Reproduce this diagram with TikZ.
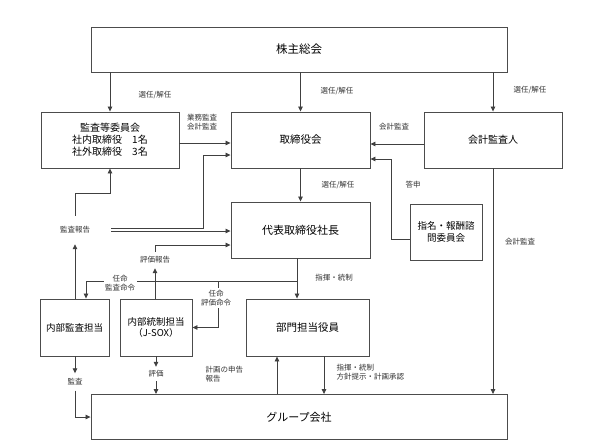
\documentclass[tikz,border=0pt]{standalone}
\usepackage{fontspec}
\setmainfont{Noto Sans CJK JP}
\usetikzlibrary{arrows.meta,calc}
\begin{document}
\begin{tikzpicture}[x=1pt,y=-1pt,
  box/.style={draw=black!70, line width=0.9pt, align=center, inner sep=1pt, font=\fontsize{10.5}{12}\selectfont},
  lab/.style={fill=white, align=center, inner sep=1.5pt, font=\fontsize{7.5}{9.5}\selectfont, text=black!80},
  arr/.style={draw=black!75, line width=0.8pt, -{Triangle[length=5pt,width=4.5pt]}},
  ln/.style={draw=black!75, line width=0.8pt}]
\useasboundingbox (0,0) rectangle (601,442);
% boxes
\node[box, minimum width=416, minimum height=45, font=\fontsize{11.5}{13}\selectfont] (sh) at (299,49.5) {株主総会};
\node[box, minimum width=138, minimum height=56, font=\fontsize{10}{12}\selectfont] (kansa) at (110,140) {監査等委員会\\社内取締役　1名\\社外取締役　3名};
\node[box, minimum width=139, minimum height=56] (tori) at (300.5,140) {取締役会};
\node[box, minimum width=138, minimum height=56, font=\fontsize{10}{12}\selectfont] (kaikei) at (493,140) {会計監査人};
\node[box, minimum width=139, minimum height=56, font=\fontsize{11}{13}\selectfont] (daihyo) at (300.5,230) {代表取締役社長};
\node[box, minimum width=72, minimum height=56, font=\fontsize{9.5}{11.5}\selectfont] (shimei) at (446,232) {指名・報酬諮\\問委員会};
\node[box, minimum width=69, minimum height=57, font=\fontsize{9.5}{11.5}\selectfont] (naibu) at (74.5,327.5) {内部監査担当};
\node[box, minimum width=72, minimum height=57, font=\fontsize{9.5}{11.5}\selectfont] (tosei) at (156,327.5) {内部統制担当\\（J-SOX）};
\node[box, minimum width=123, minimum height=57] (bumon) at (307.5,327.5) {部門担当役員};
\node[box, minimum width=416, minimum height=45, font=\fontsize{11}{13}\selectfont] (group) at (299,417) {グループ会社};
% coordinates
\coordinate (j1) at (297,281);
\coordinate (j2) at (86,281);
\coordinate (j3) at (218,281);
\coordinate (k1) at (74,193);
\coordinate (k2) at (203,228);
\coordinate (k3) at (203,155);
\coordinate (k4) at (111,231);
\coordinate (g1) at (277,395);
\coordinate (g2) at (324,356);
\coordinate (s1) at (391,159);
\coordinate (s0) at (410,239);
% label nodes used as connector ends
\node[lab, minimum width=72, minimum height=28] (lk) at (75,230) {監査報告};
\node[lab, minimum width=40, minimum height=16] (lh) at (155,260) {評価報告};
\node[lab, minimum width=28, minimum height=14] (lv) at (156,374) {評価};
\node[lab, minimum width=30, minimum height=17] (lm) at (75,382) {監査};
% connectors
\draw[arr] (sh.south -| kansa.north) -- (kansa.north);
\draw[arr] (sh.south -| tori.north) -- (tori.north);
\draw[arr] (sh.south -| kaikei.north) -- (kaikei.north);
\draw[arr] ($(kansa.east)+(0,3)$) -- ($(tori.west)+(0,3)$);
\draw[arr] ($(kaikei.west)+(0,4)$) -- ($(tori.east)+(0,4)$);
\draw[arr] (tori.south) -- (daihyo.north);
\draw[arr] (s0) -| (s1) -- (s1 -| tori.east);
\draw[arr] (daihyo.south -| j1) -- (bumon.north -| j1);
\draw[ln] (j1) -- (j2);
\draw[arr] (j2) -- (j2 |- naibu.north);
\draw[arr] (j3) |- (tosei.east);
\draw[arr] (lk.south |- naibu.north) -- (lk.south);
\draw[arr] (lk.north) -- (lk.north |- k1) -| (kansa.south);
\draw[ln] (lk.east |- k2) -- (k2) -- (k3);
\draw[arr] (k3) -- (k3 -| tori.west);
\draw[arr] (k4) -- (k4 -| daihyo.west);
\draw[arr] (lh.south |- tosei.north) -- (lh.south);
\draw[arr] (lh.north) |- ($(daihyo.west)+(0,15)$);
\draw[arr] (tosei.south -| lv.north) -- (lv.north);
\draw[arr] (lv.south) -- (lv.south |- group.north);
\draw[arr] (naibu.south -| lm.north) -- (lm.north);
\draw[arr] (lm.south) |- (group.west);
\draw[arr] (group.north -| g1) -- (bumon.south -| g1);
\draw[arr] (bumon.south -| g2) -- (group.north -| g2);
\draw[arr] (kaikei.south) -- (kaikei.south |- group.north);
% labels
\node[lab] (l1) at (155,95) {選任/解任};
\node[lab] (l2) at (337,91) {選任/解任};
\node[lab] (l3) at (530,90) {選任/解任};
\node[lab] (l4) at (202,122) {業務監査\\会計監査};
\node[lab] (l5) at (394,127) {会計監査};
\node[lab] (l6) at (338,185) {選任/解任};
\node[lab] (l7) at (413,185) {答申};
\node[lab] (l8) at (334,278) {指揮・統制};
\node[lab] (l9) at (120,283) {任命\\監査命令};
\node[lab] (l10) at (216,298) {任命\\評価命令};
\node[lab] (l11) at (520,242) {会計監査};
\node[lab, anchor=west, align=left] (l12) at (204,374) {計画の申告\\報告};
\node[lab, anchor=west, align=left] (l13) at (335,372) {指揮・統制\\方針提示・計画承認};
\end{tikzpicture}
\end{document}
